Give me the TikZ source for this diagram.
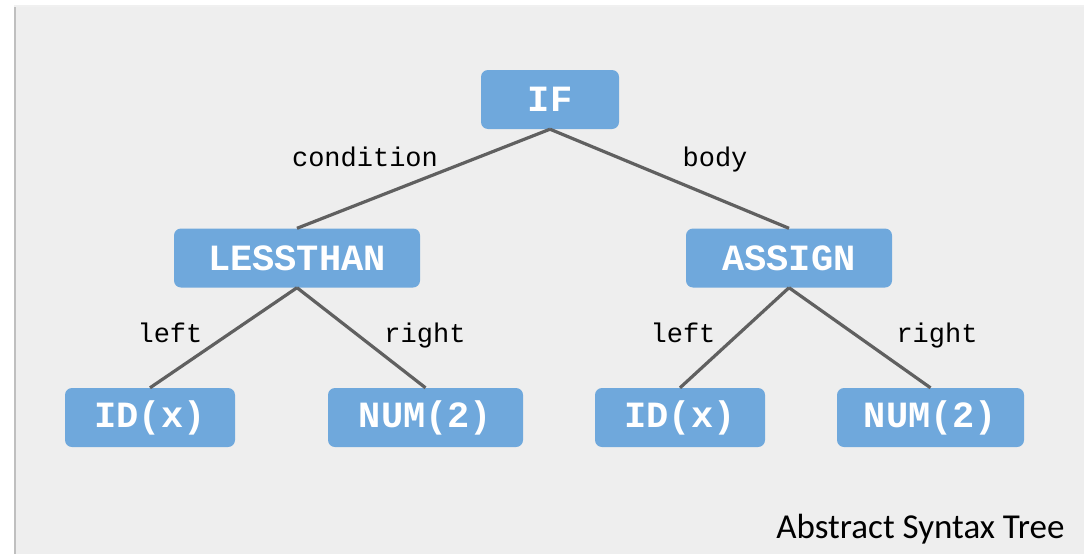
\documentclass[tikz,border=0pt]{standalone}
\usepackage{fontspec}
\setmainfont{Carlito}
\newfontfamily\codefont{Liberation Mono}
\usetikzlibrary{positioning}
\definecolor{panelgray}{RGB}{238,238,238}
\definecolor{boxblue}{RGB}{111,168,220}
\definecolor{edgegray}{RGB}{96,96,96}

\begin{document}
\begin{tikzpicture}[x=1pt, y=-1pt,
  treebox/.style={fill=boxblue, rounded corners=7pt, text=white,
    font=\codefont\fontsize{37}{37}\selectfont\bfseries,
    minimum height=59pt, inner sep=0pt},
  branch/.style={draw=edgegray, line width=3.2pt},
  lbl/.style={font=\codefont\fontsize{27}{27}\selectfont, text=black,
    anchor=base, inner sep=0pt}]

% ---- panel ----
\useasboundingbox (0,0) rectangle (1084,554);
\fill[white] (0,0) rectangle (1084,554);
\fill[black!6] (14,5) rectangle (1084,554);
\fill[black!25] (14,7) rectangle (16,554);
\fill[panelgray] (16,7) rectangle (1084,554);

% ---- nodes ----
\node[treebox, minimum width=138pt] (if) at (550,99.5) {IF};
\node[treebox, minimum width=246pt] (lt) at (297,258) {LESSTHAN};
\node[treebox, minimum width=206pt] (as) at (789,258) {ASSIGN};
\node[treebox, minimum width=170pt] (idl) at (150,417.5) {ID(x)};
\node[treebox, minimum width=195pt] (numl) at (425.5,417.5) {NUM(2)};
\node[treebox, minimum width=170pt] (idr) at (680,417.5) {ID(x)};
\node[treebox, minimum width=187pt] (numr) at (930.5,417.5) {NUM(2)};

% ---- edges ----
\draw[branch] (if.south) -- (lt.north);
\draw[branch] (if.south) -- (as.north);
\draw[branch] (lt.south) -- (idl.north);
\draw[branch] (lt.south) -- (numl.north);
\draw[branch] (as.south) -- (idr.north);
\draw[branch] (as.south) -- (numr.north);

% ---- edge labels ----
\node[lbl] (lcond) at (365,166) {condition};
\node[lbl] (lbody) at (715,166) {body};
\node[lbl] (lleft1) at (170,342) {left};
\node[lbl] (lright1) at (425,342) {right};
\node[lbl] (lleft2) at (683,342) {left};
\node[lbl] (lright2) at (937,342) {right};

\node[font=\fontsize{35}{35}\selectfont, anchor=south east] (title) at (1068,548) {Abstract Syntax Tree};
\end{tikzpicture}
\end{document}
